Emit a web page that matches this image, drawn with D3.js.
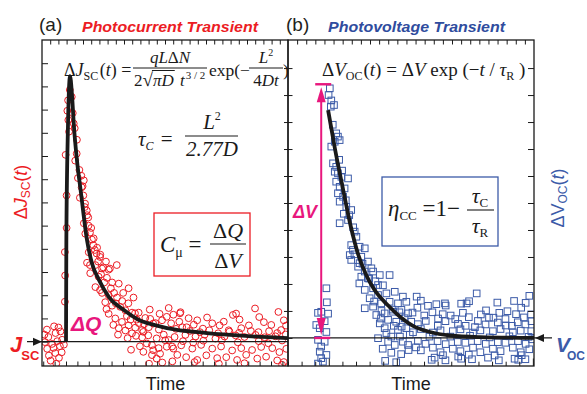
<!DOCTYPE html>
<html><head><meta charset="utf-8">
<script src="https://cdn.jsdelivr.net/npm/d3@7"></script>
<style>body{margin:0;background:#fff}svg{display:block}</style>
</head><body>
<svg id="c" width="587" height="394"></svg>
<script>
// ---------------- DATA ----------------
const panelLabels = ["(a)", "(b)"];
const panelTitles = ["Photocurrent Transient", "Photovoltage Transient"];
const xLabel = "Time";
// Photocurrent transient (a): [time, signal]
const ptsA = [
 [2.0,0.52],[4.9,0.66],[6.7,0.61],[2.6,0.20],[5.5,0.37],[7.5,0.44],[1.2,-0.02],[4.1,-0.10],[6.2,0.02],[8.2,0.08],
 [2.1,-0.31],[4.7,-0.27],[7.3,-0.20],[2.8,-0.60],[5.4,-0.49],[8.0,-0.46],[3.5,-0.82],[6.9,-0.70],[1.0,0.30],[8.9,-0.13],[5.8,-0.95],
 [9.3,1.72],[9.4,2.85],[9.3,3.86],[10.0,4.90],[10.0,6.30],[9.6,8.05],
 [10.6,10.40],[12.1,10.55],[10.3,9.95],[12.5,9.85],[10.7,9.55],[12.9,9.40],[13.3,9.20],[11.3,10.85],[11.0,9.05],
 [14.2,8.70],[13.5,7.80],[15.2,7.40],[16.0,7.15],[14.6,7.05],[17.0,6.95],[16.5,6.70],[14.1,8.10],[15.4,6.20],[16.1,6.65],
 [17.5,5.95],[17.4,5.80],[18.2,5.65],[18.3,5.45],[18.8,5.35],[17.0,5.10],[19.5,4.70],[21.0,4.45],[20.9,4.15],[22.2,3.80],
 [23.6,3.65],[19.5,3.30],[24.9,3.20],[27.6,3.15],[30.4,3.30],[17.6,4.65],[20.3,4.40],[22.4,4.05],[19.0,3.85],[23.7,3.75],
 [18.3,3.40],[21.7,3.30],[24.4,3.15],[27.1,3.10],[19.6,2.95],[23.0,2.80],[26.4,2.75],[28.5,2.55],[31.2,2.50],[35.2,2.30],
 [21.7,2.35],[24.4,2.10],[27.1,2.00],[30.5,1.90],[25.7,1.70],[28.5,1.55],[31.8,1.50],[33.9,1.35],[36.6,1.25],[39.3,1.25],
 [27.1,1.20],[29.8,1.00],[32.5,0.85],[35.2,0.70],[37.9,0.60],[40.7,0.50],[43.4,0.62],[46.1,0.80],[48.8,0.92],[31.2,0.58],
 [36.6,0.36],[40.7,0.18],[44.7,-0.15],[47.4,-0.28],[44.7,-0.58],[50.1,0.06],[33.9,0.48],[39.3,0.80],[42.0,1.02],[42.6,-0.08],
 [45.2,-0.37],[48.0,-0.52],[46.6,-0.73],[50.7,-0.22],[53.4,-0.30],[41.2,0.42],[43.2,0.27],[56.1,1.22],[35.1,1.65],[37.8,1.22],
 [23.6,2.22],[45.2,0.78],[46.6,0.14],[41.2,-0.44],
 [16.8,6.3],[18.9,5.0],[20.0,4.9],[21.5,3.95],[22.8,3.45],[24.0,2.9],[25.3,2.55],[26.0,3.45],[28.0,2.3],[29.3,2.1],
 [30.0,1.65],[32.6,1.75],[34.5,1.1],[36.0,0.95],[38.5,0.95],[41.5,0.75],[44.0,0.98],[47.5,0.52],[49.5,0.30],[38.2,0.25],
 [34.8,0.15],[30.9,0.3],[29.0,0.72],[26.2,1.4],[33.0,2.1],[37.2,1.9],[43.8,1.38],[47.8,1.2],[51.5,1.45],[54.5,0.55],
 [57.0,0.62],[39.8,-0.2],[36.2,-0.35],[48.9,-0.9],[53.0,-0.85],[43.5,-0.95],
 [50.7,1.07],[53.4,1.16],[56.3,1.27],[52.5,0.79],[55.8,0.86],[58.8,0.62],[61.7,0.73],[63.1,0.92],[65.4,0.56],[69.2,0.79],
 [72.2,0.70],[73.9,0.86],[77.6,1.15],[78.9,1.21],[86.6,1.43],[90.2,0.84],[93.2,0.72],[96.1,1.28],[98.3,0.92],[97.2,0.50],
 [84.1,0.70],[81.0,0.58],[75.9,0.49],[58.3,0.29],[53.9,0.20],[51.5,0.07],[62.4,0.22],[66.1,0.30],[70.5,0.13],[74.2,0.22],
 [78.7,0.27],[82.3,0.20],[86.8,0.29],[90.5,0.19],[94.9,0.23],[97.6,0.05],[52.9,-0.21],[56.6,-0.16],[61.1,-0.30],[64.7,-0.14],
 [69.2,-0.30],[72.8,-0.21],[77.3,-0.38],[81.0,-0.28],[85.4,-0.36],[89.1,-0.23],[93.6,-0.28],[96.5,-0.45],[55.0,-0.57],[58.6,-0.67],
 [63.1,-0.79],[66.8,-0.59],[71.2,-0.71],[74.9,-0.67],[79.3,-0.79],[83.0,-0.57],[87.5,-0.73],[91.1,-0.65],[95.6,-0.81],[98.3,-0.88],
 [62.0,-0.88],[71.9,-0.95],[82.3,-0.93],[97.6,-1.0],
 [60.1,0.46],[64.2,0.41],[68.0,0.49],[71.6,0.36],[76.2,0.43],[80.1,0.38],[84.9,0.46],[88.0,0.41],[92.3,0.45],[95.6,0.37],
 [99.1,0.31],[57.3,0.02],[61.5,-0.04],[65.6,0.04],[73.1,0.06],[79.6,-0.03],[88.1,0.02],[92.0,-0.07],[99.3,-0.31],[59.6,1.01],
 [67.1,1.04],[80.3,0.95],[88.3,1.06],[99.2,0.69]
];
const fitA = [[9.76,0],[9.9,4.4],[10.5,9.0],[11.4,11.44],[12.2,10.62],[13.0,9.25],[14.2,7.83],[15.85,6.4],[18.3,4.37],
 [20.3,3.38],[23.2,2.65],[27.2,1.92],[33.3,1.36],[39.4,0.93],[45.9,0.71],[50.8,0.58],[67.1,0.37],[83.7,0.24],[100,0.15]];
// Photovoltage transient (b): [time, signal]
const ptsB = [
 [15.6,1.84],[13.5,0.97],[15.8,1.32],[12.2,0.93],[16.3,0.90],[11.5,0.48],[14.9,0.62],[12.9,0.36],[15.6,0.22],[12.2,-0.07],
 [14.9,-0.14],[13.5,-0.32],[12.9,-0.51],[15.6,-0.63],[13.5,-0.75],[14.2,-0.88],[12.2,-0.95],
 [17.0,9.25],[16.5,9.0],[17.6,8.8],[18.7,8.63],[17.4,8.57],[19.6,7.58],[20.3,7.46],[19.0,7.27],[21.0,7.33],[17.6,7.09],
 [18.3,6.47],[19.6,6.34],[19.0,6.16],[20.3,6.10],[21.7,5.97],[24.4,5.91],[19.6,5.79],[21.0,5.60],[23.0,5.54],[20.3,5.36],
 [22.4,5.23],[21.0,5.05],[23.7,4.86],[25.7,4.74],[21.0,4.25],[24.4,4.37],[27.1,3.94],[27.8,3.75],[25.7,3.44],[29.1,3.38],
 [31.2,3.32],[26.4,3.26],[25.1,3.07],[29.8,3.01],[32.5,2.83],[28.5,2.64],[31.2,2.46],[34.6,2.46],[37.3,2.33],[41.3,2.33],
 [29.8,2.27],[32.5,2.21],[25.7,2.89],[29.1,2.77],[33.9,2.58],[29.0,2.02],[31.2,1.78],[34.6,1.84],[36.6,1.96],[33.2,1.47],
 [36.6,1.59],[40.0,1.65],[43.4,1.71],[46.7,1.53],[31.2,1.10],[34.6,1.16],[37.9,1.28],[41.3,1.34],[44.7,1.28],[48.1,1.34],
 [35.9,0.85],[39.3,0.91],[42.7,0.97],[46.1,1.04],[48.8,0.91],[37.3,0.54],[40.7,0.67],[44.0,0.60],[47.4,0.73],[50.1,0.60],
 [36.6,-0.01],[40.7,-0.14],[43.4,-0.26],[46.7,-0.14],[48.8,-0.26],[42.0,0.05],[39.3,0.36],[44.7,0.30],[48.1,0.36],
 [18.2,7.9],[20.8,6.6],[22.0,6.2],[23.5,5.1],[24.9,4.55],[26.5,4.1],[22.7,4.6],[27.0,3.1],[30.3,2.75],[33.0,2.2],
 [35.5,2.1],[38.6,1.95],[35.0,1.35],[38.0,1.0],[42.5,1.05],[45.3,0.95],[40.0,0.18],[45.5,0.05],[49.5,0.12],[37.8,0.72],
 [43.0,0.45],[46.2,0.42],[38.5,-0.4],[42.0,-0.55],[46.0,-0.6],[49.0,-0.45],[44.0,-0.9],[39.5,-0.85],
 [76.7,1.65],[63.8,1.28],[52.3,1.53],[72.6,1.28],[58.4,-0.81],[69.2,-0.69],[93.6,-0.81],
 [54.0,1.38],[52.6,1.12],[56.9,1.19],[60.3,1.25],[64.1,1.20],[70.4,1.27],[73.6,1.36],[85.1,1.31],[91.9,1.37],[96.6,1.30],
 [98.1,1.56],[80.5,1.02],[89.2,0.99],[94.8,1.12],
 [50.6,0.94],[55.4,0.83],[58.7,0.95],[62.9,0.88],[66.1,0.83],[71.1,0.93],[73.5,0.77],[78.4,0.87],[81.7,0.75],[85.9,0.93],
 [88.4,0.70],[92.7,0.88],[95.9,0.76],[98.8,0.87],
 [52.8,0.51],[56.0,0.63],[60.9,0.45],[64.0,0.62],[69.1,0.52],[72.2,0.45],[77.2,0.63],[80.3,0.50],[85.3,0.57],[88.5,0.46],
 [93.4,0.58],[96.5,0.50],
 [50.8,0.21],[54.0,0.33],[58.9,0.20],[62.0,0.28],[67.0,0.25],[70.1,0.32],[75.2,0.20],[78.2,0.28],[83.3,0.25],[86.4,0.33],
 [91.4,0.21],[94.6,0.27],[98.9,0.25],
 [52.8,-0.11],[55.9,-0.22],[60.8,-0.12],[64.1,-0.23],[69.0,-0.15],[72.1,-0.18],[77.1,-0.12],[80.4,-0.22],[85.3,-0.16],[88.4,-0.18],
 [93.5,-0.12],[96.6,-0.22],
 [54.0,-0.46],[58.9,-0.36],[62.0,-0.53],[67.0,-0.40],[70.1,-0.49],[75.2,-0.36],[78.2,-0.53],[83.3,-0.40],[86.4,-0.49],[91.4,-0.36],
 [94.6,-0.53],[98.1,-0.42],
 [59.6,-0.73],[64.0,-0.83],[70.4,-0.77],[74.8,-0.79],[81.3,-0.73],[85.7,-0.83],[92.1,-0.77],[96.5,-0.79],
 [57.5,0.05],[66.0,0.05],[74.0,0.08],[82.0,0.02],[90.0,0.06],[97.8,0.04],[61.0,0.72],[68.0,0.70],[76.0,0.40],[83.5,0.75],
 [91.0,0.45],[99.0,0.62],[52.0,-0.35],[63.0,-0.64],[73.5,-0.62],[84.0,-0.65],[95.0,-0.64],[99.2,-0.05]
];
const fitB = [[16.3,8.44],[19.1,7.0],[22.4,5.5],[25.6,4.1],[28.5,3.1],[31.7,2.35],[35.0,1.80],[40.7,1.20],[46.0,0.75],
 [50.8,0.45],[57.7,0.22],[65.9,0.09],[78.0,0.03],[100,0.0]];
const riseTimeB = 13.5;   // ΔV arrow position
const stepB = 9.4;        // ΔV amplitude
const leftTicksA = d3.range(0, 13);
const sideTicksB = d3.range(0, 11);

// ---------------- SETUP ----------------
const svg = d3.select("#c");
const SERIF = "'Liberation Serif','Times New Roman',serif";
const SANS = "'Liberation Sans',Arial,Helvetica,sans-serif";
const RED = "#ec1c24", BLUE = "#3c5ba8", BLUE_T = "#2f4c9e", MAG = "#e8177d", INK = "#1a1a1a";

const xa = d3.scaleLinear().domain([0, 100]).range([42, 288]);
const ya = d3.scaleLinear().domain([-1.05, 13]).range([366, 40]);
const xb = d3.scaleLinear().domain([0, 100]).range([288, 534]);
const yb = d3.scaleLinear().domain([-1.04, 11.04]).range([366, 40]);

const defs = svg.append("defs");
defs.append("clipPath").attr("id", "clipA").append("rect").attr("x", 42).attr("y", 40).attr("width", 246).attr("height", 326);
defs.append("clipPath").attr("id", "clipB").append("rect").attr("x", 288).attr("y", 40).attr("width", 246).attr("height", 326);

function rich(parent, x, y, parts, attrs = {}) {
  const t = parent.append("text").attr("x", x).attr("y", y);
  for (const [k, v] of Object.entries(attrs)) t.attr(k, v);
  let prev = 0;
  parts.forEach(p => {
    const s = p.sh || 0;
    const ts = t.append("tspan").text(p.t).attr("dy", s - prev);
    prev = s;
    if (p.it) ts.attr("font-style", "italic");
    if (p.fs) ts.attr("font-size", p.fs);
    if (p.dx) ts.attr("dx", p.dx);
    if (p.fw) ts.attr("font-weight", p.fw);
  });
  return t;
}
function hline(g, x1, x2, y, color = INK, w = 1.1) {
  g.append("line").attr("x1", x1).attr("x2", x2).attr("y1", y).attr("y2", y).attr("stroke", color).attr("stroke-width", w);
}

// ---------------- SCATTER ----------------
svg.append("g").attr("clip-path", "url(#clipA)").selectAll("circle").data(ptsA).join("circle")
  .attr("cx", d => xa(d[0])).attr("cy", d => ya(d[1])).attr("r", 3.4)
  .attr("fill", "none").attr("stroke", RED).attr("stroke-width", 1);

const sq = 6.6;
svg.append("g").attr("clip-path", "url(#clipB)").selectAll("rect").data(ptsB).join("rect")
  .attr("x", d => xb(d[0]) - sq / 2).attr("y", d => yb(d[1]) - sq / 2).attr("width", sq).attr("height", sq)
  .attr("fill", "none").attr("stroke", BLUE).attr("stroke-width", 1);

// ---------------- BASELINES ----------------
hline(svg, 27, 288, ya(0), INK, 1.3);
hline(svg, 288, 552, yb(0), INK, 1.3);
svg.append("path").attr("d", `M42,${ya(0)} L33,${ya(0) - 4} L33,${ya(0) + 4} Z`).attr("fill", INK);
svg.append("path").attr("d", `M535,${yb(0)} L544,${yb(0) - 4} L544,${yb(0) + 4} Z`).attr("fill", INK);

// ---------------- FIT CURVES ----------------
const lineA = d3.line().x(d => xa(d[0])).y(d => ya(d[1])).curve(d3.curveMonotoneX);
const lineB = d3.line().x(d => xb(d[0])).y(d => yb(d[1])).curve(d3.curveMonotoneX);
svg.append("path").attr("d", lineA(fitA)).attr("fill", "none").attr("stroke", INK).attr("stroke-width", 3.8).attr("clip-path", "url(#clipA)");
svg.append("path").attr("d", lineB(fitB)).attr("fill", "none").attr("stroke", INK).attr("stroke-width", 3.8).attr("clip-path", "url(#clipB)");

// ---------------- ΔV arrow ----------------
const ax = xb(riseTimeB), aTop = yb(stepB), aBot = yb(0);
const mg = svg.append("g");
mg.append("line").attr("x1", ax).attr("x2", ax).attr("y1", aTop + 10).attr("y2", aBot - 10).attr("stroke", MAG).attr("stroke-width", 2);
hline(mg, ax - 6, ax + 10, aTop, MAG, 2.4);
hline(mg, ax - 7, ax + 9, aBot, MAG, 2.4);
mg.append("path").attr("d", `M${ax},${aTop + 3} L${ax - 4.5},${aTop + 18} L${ax + 4.5},${aTop + 18} Z`).attr("fill", MAG);
mg.append("path").attr("d", `M${ax},${aBot - 3} L${ax - 4.5},${aBot - 20} L${ax + 4.5},${aBot - 20} Z`).attr("fill", MAG);

// ---------------- AXES / FRAMES ----------------
function clean(g) { g.select(".domain").remove(); g.selectAll("text").remove(); g.attr("color", INK); g.selectAll("line").attr("stroke-width", 1); }
svg.append("g").attr("transform", "translate(42,0)").call(d3.axisLeft(ya).tickValues(leftTicksA).tickSize(-6).tickFormat("")).call(clean);
svg.append("g").attr("transform", "translate(0,40)").call(d3.axisTop(xa).tickValues(d3.range(100 / 30, 100, 100 / 30)).tickSize(-4.5).tickFormat("")).call(clean);
svg.append("g").attr("transform", "translate(0,366)").call(d3.axisBottom(xa).tickValues(d3.range(0.5, 100, 4.63)).tickSize(-4.5).tickFormat("")).call(clean);
svg.append("g").attr("transform", "translate(288,0)").call(d3.axisLeft(yb).tickValues(sideTicksB).tickSize(4).tickFormat("")).call(clean);
svg.append("g").attr("transform", "translate(288,0)").call(d3.axisLeft(yb).tickValues(sideTicksB).tickSize(-4.5).tickFormat("")).call(clean);
svg.append("g").attr("transform", "translate(534,0)").call(d3.axisRight(yb).tickValues(sideTicksB).tickSize(-6).tickFormat("")).call(clean);
svg.append("g").attr("transform", "translate(0,40)").call(d3.axisTop(xb).tickValues(d3.range(100 / 27, 100, 100 / 27)).tickSize(-4.5).tickFormat("")).call(clean);
const bbt = d3.range(0, 100, 5.53);
svg.append("g").attr("transform", "translate(0,366)").call(d3.axisBottom(xb).tickValues(bbt.filter((d, i) => i % 5 !== 3)).tickSize(-4.3).tickFormat("")).call(clean);
svg.append("g").attr("transform", "translate(0,366)").call(d3.axisBottom(xb).tickValues(bbt.filter((d, i) => i % 5 === 3)).tickSize(-7.5).tickFormat("")).call(clean);

svg.append("rect").attr("x", 42).attr("y", 40).attr("width", 246).attr("height", 326).attr("fill", "none").attr("stroke", INK).attr("stroke-width", 1.3);
svg.append("rect").attr("x", 288).attr("y", 40).attr("width", 246).attr("height", 326).attr("fill", "none").attr("stroke", INK).attr("stroke-width", 1.3);

// ---------------- TITLES ----------------
svg.append("text").attr("x", 39).attr("y", 31).attr("font-family", SANS).attr("font-size", 19).attr("fill", "#231f20").text(panelLabels[0]);
svg.append("text").attr("x", 286).attr("y", 31).attr("font-family", SANS).attr("font-size", 19).attr("fill", "#231f20").text(panelLabels[1]);
svg.append("text").attr("x", 82).attr("y", 32).attr("font-family", SANS).attr("font-size", 15.5).attr("font-weight", "bold").attr("font-style", "italic")
  .attr("fill", RED).attr("textLength", 176).attr("lengthAdjust", "spacingAndGlyphs").text(panelTitles[0]);
svg.append("text").attr("x", 328).attr("y", 32).attr("font-family", SANS).attr("font-size", 15.5).attr("font-weight", "bold").attr("font-style", "italic")
  .attr("fill", BLUE_T).attr("textLength", 177).attr("lengthAdjust", "spacingAndGlyphs").text(panelTitles[1]);
svg.append("text").attr("x", 165.5).attr("y", 390).attr("text-anchor", "middle").attr("font-family", SANS).attr("font-size", 18).attr("fill", INK).text(xLabel);
svg.append("text").attr("x", 411).attr("y", 390).attr("text-anchor", "middle").attr("font-family", SANS).attr("font-size", 18).attr("fill", INK).text(xLabel);

// rotated y labels
rich(svg.append("g").attr("transform", "translate(27,192) rotate(-90)"), 0, 0,
  [{t: "Δ"}, {t: "J", it: 1}, {t: "SC", fs: 12, sh: 3}, {t: "(", sh: 0}, {t: "t", it: 1}, {t: ")"}],
  {"font-family": SANS, "font-size": 18, fill: RED, "text-anchor": "middle"});
rich(svg.append("g").attr("transform", "translate(564,198) rotate(-90)"), 0, 0,
  [{t: "Δ"}, {t: "V"}, {t: "OC", fs: 12, sh: 3}, {t: "(", sh: 0}, {t: "t", it: 1}, {t: ")"}],
  {"font-family": SANS, "font-size": 18, fill: BLUE, "text-anchor": "middle"});

// Jsc / Voc labels
rich(svg, 10, 352, [{t: "J", it: 1}, {t: "SC", fs: 13, sh: 8, dx: -1}],
  {"font-family": SANS, "font-size": 22, "font-weight": "bold", fill: RED});
rich(svg, 556, 352, [{t: "V", it: 1}, {t: "OC", fs: 12, sh: 8, dx: -3}],
  {"font-family": SANS, "font-size": 21, "font-weight": "bold", fill: BLUE});

// ΔQ, ΔV labels
svg.append("text").attr("x", 71).attr("y", 331).attr("font-family", SANS).attr("font-size", 21).attr("font-weight", "bold").attr("font-style", "italic").attr("fill", MAG).text("ΔQ");
svg.append("text").attr("x", 293).attr("y", 218).attr("font-family", SANS).attr("font-size", 18).attr("font-weight", "bold").attr("font-style", "italic").attr("fill", MAG).text("ΔV");

// ---------------- FORMULAS ----------------
const F = svg.append("g").attr("font-family", SERIF).attr("fill", INK);
// panel a main formula
rich(F, 64, 76, [{t: "Δ"}, {t: "J", it: 1}, {t: "SC", fs: 12, sh: 4}, {t: "(", sh: 0, dx: 1.5}, {t: "t", it: 1}, {t: ") ="}], {"font-size": 18});
rich(F, 170, 63, [{t: "q", it: 1}, {t: "L", it: 1}, {t: "Δ"}, {t: "N", it: 1}], {"font-size": 17, "text-anchor": "middle"});
hline(F, 133, 207, 68, INK, 1);
const den = rich(F, 134, 86, [{t: "2"}, {t: "√", fs: 19}, {t: "π", it: 1}, {t: "D", it: 1}, {t: " "}, {t: "t", it: 1, dx: 2}, {t: "3 / 2", fs: 11, sh: -7, dx: 1}], {"font-size": 17});
{
  const n = den.node();
  const e1 = n.getExtentOfChar(1), e3 = n.getExtentOfChar(3);
  hline(F, e1.x + e1.width - 1, e3.x + e3.width + 1, e1.y + 1.5, INK, 1);
}
rich(F, 209, 76, [{t: "exp(−"}], {"font-size": 17.5});
rich(F, 266, 63, [{t: "L", it: 1}, {t: "2", fs: 10, sh: -7}], {"font-size": 17, "text-anchor": "middle"});
hline(F, 249, 283, 68, INK, 1);
rich(F, 266, 86, [{t: "4"}, {t: "Dt", it: 1}], {"font-size": 17, "text-anchor": "middle"});
rich(F, 283, 76, [{t: ")"}], {"font-size": 17.5});

// tau_C
rich(F, 138, 146, [{t: "τ", it: 1}, {t: "C", it: 1, fs: 12, sh: 4}, {t: " =", sh: 0, dx: 2}], {"font-size": 21});
rich(F, 212, 129, [{t: "L", it: 1}, {t: "2", fs: 12, sh: -9}], {"font-size": 21, "text-anchor": "middle"});
hline(F, 185, 238, 136, INK, 1.1);
rich(F, 212, 156, [{t: "2.77", it: 1}, {t: "D", it: 1}], {"font-size": 21, "text-anchor": "middle"});

// C_mu box
svg.append("rect").attr("x", 154).attr("y", 213).attr("width", 96).attr("height", 63).attr("fill", "none").attr("stroke", RED).attr("stroke-width", 1.3);
rich(F, 160, 252, [{t: "C", it: 1}, {t: "μ", fs: 14, sh: 5}, {t: " =", sh: 0}], {"font-size": 23});
rich(F, 228, 238, [{t: "Δ"}, {t: "Q", it: 1}], {"font-size": 22, "text-anchor": "middle"});
hline(F, 210, 246, 244, INK, 1.1);
rich(F, 228, 268, [{t: "Δ"}, {t: "V", it: 1}], {"font-size": 22, "text-anchor": "middle"});

// panel b formula
rich(F, 322, 76, [{t: "Δ"}, {t: "V", it: 1}, {t: "OC", fs: 12, sh: 4}, {t: "(", sh: 0, dx: 1}, {t: "t", it: 1}, {t: ") = Δ"}, {t: "V", it: 1},
  {t: " exp ("}, {t: "−"}, {t: "t", it: 1}, {t: " / "}, {t: "τ", it: 1}, {t: "R", fs: 12, sh: 4}, {t: " )", sh: 0}], {"font-size": 19});

// eta box
svg.append("rect").attr("x", 382).attr("y", 177).attr("width", 116).attr("height", 69).attr("fill", "none").attr("stroke", BLUE).attr("stroke-width", 1.3);
rich(F, 388, 216, [{t: "η", it: 1}, {t: "CC", fs: 13, sh: 4}, {t: " =1−", sh: 0}], {"font-size": 23});
rich(F, 480, 203, [{t: "τ", it: 1}, {t: "C", fs: 13, sh: 4}], {"font-size": 22, "text-anchor": "middle"});
hline(F, 467, 494, 210, INK, 1.1);
rich(F, 480, 233, [{t: "τ", it: 1}, {t: "R", fs: 13, sh: 4}], {"font-size": 22, "text-anchor": "middle"});
</script>
</body></html>
